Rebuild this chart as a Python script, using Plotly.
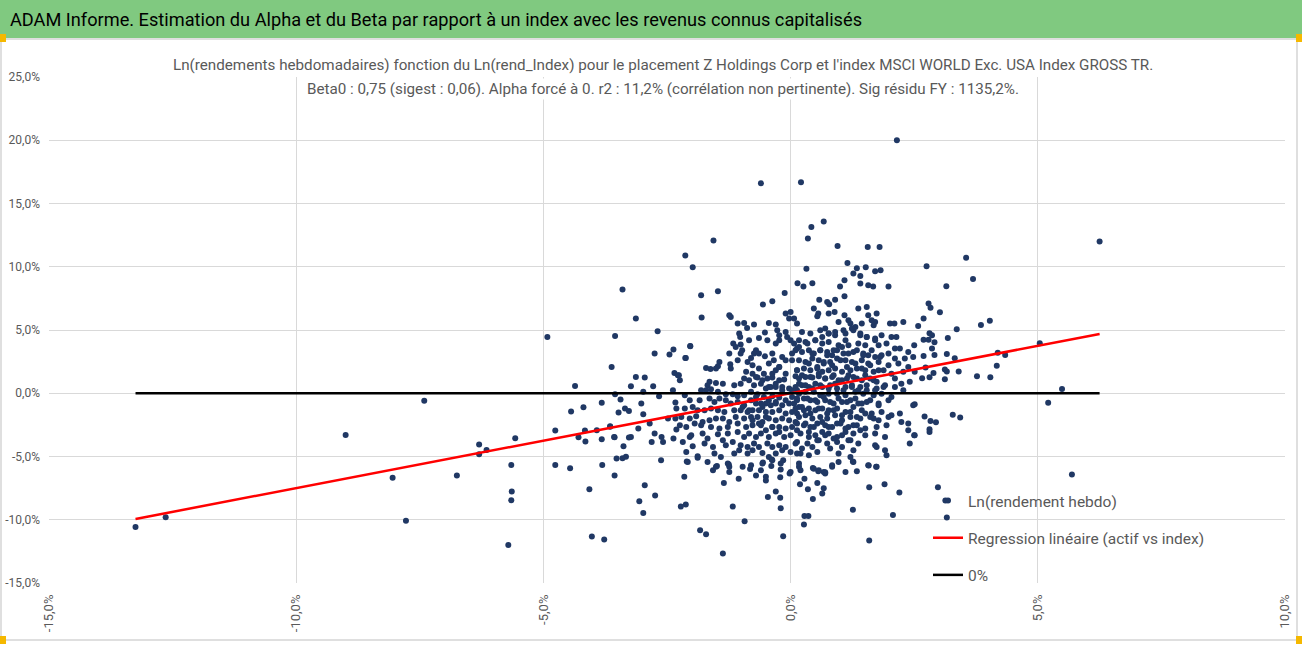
import plotly.graph_objects as go

# valeurs (en %)
beta0 = 0.75

x_ticks = [-15, -10, -5, 0, 5, 10]
x_labels = ["-15,0%", "-10,0%", "-5,0%", "0,0%", "5,0%", "10,0%"]
y_ticks = [-15, -10, -5, 0, 5, 10, 15, 20, 25]
y_labels = ["-15,0%", "-10,0%", "-5,0%", "0,0%", "5,0%", "10,0%", "15,0%", "20,0%", "25,0%"]

# (rend_index, rend_actif)
tail_left = [
    (-13.25, -10.57), (-12.64, -9.80), (-9.00, -3.30), (-7.41, -0.60), (-8.05, -6.67),
    (-7.78, -10.07), (-6.75, -6.50), (-6.30, -4.06), (-6.30, -4.82), (-6.15, -4.48),
    (-5.57, -3.56), (-5.65, -5.67), (-5.64, -7.77), (-5.65, -8.46), (-5.71, -11.99),
    (-4.92, 4.45), (-4.36, 0.58), (-4.44, -1.45), (-4.19, -1.10), (-3.82, -0.76),
    (-4.76, -2.95), (-4.16, -2.95), (-4.29, -3.48), (-4.15, -3.82), (-3.82, -3.64),
    (-3.65, -2.64), (-3.56, -3.48), (-4.76, -5.67), (-4.46, -5.93), (-3.81, -5.67),
    (-3.56, -6.51), (-4.07, -7.59), (-4.02, -11.33), (-3.77, -11.57), (-3.62, 2.08),
    (-3.55, 4.53),
]

mid_left = [
    (-3.55, -0.08), (-3.44, -0.50), (-3.23, 0.55), (-3.13, 1.29), (-2.95, 1.24),
    (-2.98, 0.11), (-2.78, 0.55), (-2.66, -0.24), (-2.35, 1.61), (-2.26, 1.42),
    (-2.38, 0.24), (-2.33, -0.74), (-3.48, -1.53), (-3.35, -1.21), (-3.27, -1.40),
    (-3.02, -0.82), (-2.98, -1.66), (-2.85, -2.40), (-3.08, -2.79), (-3.23, -3.45),
    (-3.27, -3.50), (-3.38, -4.19), (-3.65, -2.61), (-3.57, -3.45), (-3.92, -2.92),
    (-2.81, -3.85), (-2.75, -3.19), (-2.61, -3.45), (-2.58, -3.85), (-2.48, -2.00),
    (-2.33, -2.00), (-2.31, -2.87), (-2.37, -3.58), (-3.40, 8.20), (-3.13, 5.90),
    (-2.69, 4.90), (-2.75, 3.14), (-2.45, 3.06), (-2.37, 3.45), (-2.03, 3.74),
    (-2.13, 2.79),
]

upper = [
    (-0.60, 16.60), (0.21, 16.68), (0.67, 13.57), (0.42, 13.15), (0.35, 12.23),
    (0.95, 11.65), (1.56, 11.57), (1.80, 11.57), (-1.56, 12.07), (-2.13, 10.88),
    (-1.98, 9.96), (0.14, 8.70), (0.26, 8.43), (0.44, 8.70), (0.32, 9.85),
    (1.15, 10.30), (1.34, 9.88), (1.52, 9.96), (1.82, 9.72), (1.71, 9.64),
    (1.27, 9.46), (1.41, 9.27), (1.09, 8.93), (1.00, 8.43), (1.41, 8.67),
    (1.57, 8.54), (1.67, 8.43), (1.98, 8.43), (2.15, 20.00),
]

right_side = [
    (6.25, 11.99), (3.55, 10.72), (2.75, 10.04), (3.69, 9.04), (3.15, 8.46),
    (2.79, 7.09), (2.83, 6.75), (3.02, 6.40), (2.69, 5.90), (2.58, 5.32),
    (3.36, 5.06), (3.85, 5.40), (4.03, 5.74), (2.81, 4.74), (2.86, 4.58),
    (2.69, 4.22), (2.79, 4.22), (2.91, 4.03), (3.18, 4.37), (2.86, 3.53),
    (2.69, 2.95), (2.91, 3.03), (3.16, 3.11), (3.32, 2.77), (4.19, 3.21),
    (4.34, 3.03), (5.04, 3.95), (2.73, 2.03), (3.12, 1.87), (3.16, 1.71),
    (3.40, 1.71), (2.89, 1.61), (4.17, 2.18), (3.77, 1.34), (4.04, 1.26),
    (2.81, 1.26), (2.66, 1.19), (3.12, 1.11), (5.49, 0.34), (5.21, -0.76),
    (2.71, -1.84), (2.83, -2.19), (2.94, -2.29), (3.28, -1.69), (3.43, -1.92),
    (5.69, -6.43), (3.13, -8.48), (3.16, -9.83), (2.51, -0.87), (2.81, -2.85),
    (2.81, -3.06), (2.38, -2.40), (2.50, -3.32),
]

lower = [
    (-1.37, -12.67), (-1.83, -10.83), (-1.71, -11.15), (-0.93, -10.12), (-0.15, -11.30),
    (0.27, -10.38), (0.28, -9.70), (0.36, -9.70), (1.59, -11.65), (2.07, -9.62),
    (1.26, -9.20), (-2.98, -9.46), (-3.06, -8.54), (-2.22, -8.96), (-2.12, -8.80),
    (-1.17, -8.96), (-2.74, -8.09), (-2.95, -7.27), (-2.15, -6.61), (-1.35, -7.09),
    (-1.05, -6.75), (-0.46, -8.20), (-0.30, -7.77), (-0.21, -8.27), (-0.20, -9.09),
    (0.19, -7.19), (0.35, -7.59), (0.45, -8.35), (0.64, -7.93), (0.67, -7.51),
    (0.54, -7.09), (1.59, -7.43), (1.90, -7.19), (2.20, -7.85), (2.98, -7.43),
    (1.73, -5.82), (1.58, -5.72), (1.34, -6.17), (1.26, -5.40), (0.84, -5.82),
    (0.70, -6.25), (0.56, -6.17), (0.45, -5.90), (0.28, -6.75), (0.17, -5.82),
    (-0.02, -6.35), (-0.21, -6.64), (-0.20, -6.03), (-0.39, -5.75), (-0.50, -6.90),
    (-0.50, -6.61), (-0.70, -6.51), (-0.82, -5.98), (-0.56, -5.48), (-0.38, -5.24),
    (-0.15, -5.30), (-1.57, -6.09), (-1.49, -5.75), (-1.25, -5.64), (-1.24, -5.82),
    (-1.88, -5.09), (-2.10, -5.40), (-2.62, -5.30), (-3.33, -5.01), (-3.40, -5.14),
    (-3.52, -5.16),
]

core_left = [
    (-1.81, 7.75), (-1.47, 8.06), (-0.12, 7.93), (-0.37, 7.27), (-0.56, 7.01),
    (-1.80, 5.98), (-1.24, 6.17), (-1.21, 6.03), (-0.10, 6.30), (0.00, 6.43),
    (-0.03, 5.90), (0.07, 5.90), (-1.07, 5.51), (-0.94, 5.56), (-0.74, 5.43),
    (-0.88, 5.16), (-0.44, 5.56), (-0.30, 5.43), (-0.27, 4.98), (-0.52, 4.80),
    (-0.23, 4.59), (-0.10, 4.85), (-0.07, 4.45), (-0.23, 4.19), (-0.30, 3.93),
    (-1.04, 4.72), (-1.02, 4.45), (-0.84, 4.19), (-0.64, 4.37), (-0.47, 4.19),
    (-2.03, 3.72), (-1.16, 3.93), (-1.11, 3.66), (-1.01, 3.85), (-0.98, 3.40),
    (-1.01, 3.14), (-0.70, 3.40), (-0.74, 3.14), (-0.64, 3.14), (-0.80, 2.79),
    (-0.52, 2.92), (-0.37, 3.14), (-0.34, 2.61), (-0.17, 2.87), (0.00, 4.19),
    (0.07, 3.93), (0.13, 3.53), (-2.12, 2.79), (-1.24, 3.14), (-1.07, 2.61),
    (-0.87, 2.48), (-0.77, 2.21), (-0.64, 1.95), (-0.44, 2.35), (-0.30, 1.82),
    (-0.23, 2.08), (-0.10, 1.55), (0.03, 2.61), (0.13, 1.82), (-1.44, 2.48),
    (-1.47, 2.13), (-1.51, 1.95), (-1.22, 2.29), (-1.21, 1.95), (-1.71, 2.00),
    (-1.62, 1.92), (-0.90, 1.69), (-0.77, 1.55), (-0.67, 1.24), (-0.54, 1.55),
    (-0.47, 1.16), (-0.37, 1.24), (-0.23, 1.03), (-0.13, 1.08), (0.10, 1.34),
    (0.17, 0.76), (-2.28, 1.42), (-2.24, 1.03), (-1.64, 0.90), (-1.68, 0.63),
    (-1.51, 0.82), (-1.37, 0.76), (-1.14, 0.63), (-1.01, 0.76), (-0.94, 1.16),
    (-0.84, 1.03), (-0.74, 0.63), (-0.60, 0.76), (-0.50, 0.37), (-0.40, 0.50),
    (-0.30, 0.50), (-0.17, 0.50), (-0.03, 0.37), (0.03, 0.24), (0.13, 0.24),
    (-1.81, 0.24), (-1.71, 0.24), (-1.61, 0.32), (-1.47, 0.11), (-1.31, -0.08),
    (-1.17, -0.08), (-1.07, -0.24), (-0.94, -0.16), (-0.80, 0.11), (-0.67, -0.08),
    (-0.54, -0.29), (-0.37, -0.24), (-0.23, -0.34), (-0.10, -0.55), (0.03, -0.29),
    (0.13, -0.42), (-2.14, -0.16), (-2.04, -0.55), (-1.84, -0.55), (-1.64, -0.42),
    (-1.54, -0.69), (-1.44, -0.42), (-1.31, -0.55), (-1.21, -0.82), (-1.07, -0.69),
    (-0.94, -0.95), (-0.80, -0.55), (-0.70, -0.82), (-0.60, -0.82), (-0.50, -0.82),
    (-0.40, -0.95), (-0.30, -0.69), (-0.17, -0.95), (-0.03, -0.82), (0.07, -0.82),
    (0.17, -1.08), (-2.31, -1.21), (-2.14, -1.21), (-1.98, -1.08), (-1.88, -1.34),
    (-1.74, -1.34), (-1.61, -1.21), (-1.47, -1.34), (-1.34, -1.48), (-1.14, -1.34),
    (-1.01, -1.34), (-0.87, -1.48), (-0.77, -1.34), (-0.64, -1.34), (-0.50, -1.48),
    (-0.37, -1.48), (-0.23, -1.34), (-0.10, -1.61), (0.03, -1.48), (0.13, -1.61),
    (-2.21, -1.87), (-2.04, -2.00), (-1.91, -1.82), (-1.78, -2.27), (-1.64, -2.13),
    (-1.51, -2.00), (-1.37, -2.00), (-1.24, -2.27), (-1.11, -1.87), (-0.94, -2.00),
    (-0.80, -1.87), (-0.67, -1.87), (-0.57, -2.27), (-0.44, -2.00), (-0.30, -2.13),
    (-0.17, -2.00), (-0.03, -2.13), (0.10, -2.27), (-2.24, -2.53), (-2.11, -2.66),
    (-1.94, -2.40), (-1.81, -2.53), (-1.61, -2.66), (-1.44, -2.79), (-1.27, -2.66),
    (-1.07, -2.40), (-0.90, -2.66), (-0.77, -2.53), (-0.60, -2.53), (-0.50, -2.92),
    (-0.37, -2.66), (-0.23, -2.66), (-0.10, -2.79), (0.03, -2.66), (0.13, -2.92),
    (-2.04, -3.45), (-2.01, -3.32), (-2.18, -3.85), (-1.78, -3.19), (-1.68, -3.58),
    (-1.47, -3.24), (-1.27, -3.19), (-1.07, -3.06), (-0.94, -3.45), (-0.84, -3.19),
    (-0.70, -3.45), (-0.60, -3.19), (-0.44, -3.45), (-0.30, -3.19), (-0.13, -3.45),
    (0.00, -3.32), (0.10, -3.98), (-1.98, -4.19), (-1.74, -3.98), (-1.57, -4.24),
    (-1.37, -3.72), (-1.31, -4.11), (-1.17, -3.85), (-1.01, -4.11), (-0.87, -4.24),
    (-0.74, -3.98), (-0.64, -4.24), (-0.47, -3.98), (-0.37, -4.24), (-0.23, -4.11),
    (-0.10, -4.24), (-2.11, -4.64), (-1.88, -4.98), (-1.54, -4.77), (-1.41, -5.03),
    (-1.14, -4.77), (-1.04, -4.51), (-0.87, -4.77), (-0.77, -4.51), (-0.57, -4.72),
    (-0.44, -5.03), (-0.30, -4.77), (-0.17, -4.51), (0.00, -4.64), (0.13, -4.77),
    (-2.08, -5.43), (-1.68, -5.43), (-1.51, -5.82), (-1.27, -5.56), (-0.97, -5.82),
    (-0.80, -5.69), (-0.57, -5.56), (-0.37, -5.30), (-0.20, -5.56), (0.00, -6.22),
    (-1.24, -6.22), (-0.60, -6.09),
]

core_right = [
    (1.09, 7.67), (0.58, 7.40), (0.74, 7.22), (0.78, 7.04), (0.90, 7.40),
    (0.47, 6.69), (0.56, 6.30), (0.54, 6.09), (0.77, 6.30), (0.89, 6.43),
    (1.09, 6.17), (1.37, 6.69), (1.54, 6.82), (1.57, 6.17), (1.74, 6.30),
    (1.17, 5.77), (1.21, 5.51), (0.97, 5.64), (1.31, 5.24), (1.44, 5.51),
    (1.64, 5.77), (1.68, 5.38), (1.71, 5.64), (2.01, 5.51), (2.10, 5.51),
    (2.28, 5.64), (0.13, 5.51), (0.23, 4.85), (0.40, 4.72), (0.60, 4.98),
    (0.70, 5.11), (0.77, 4.72), (0.90, 4.59), (1.11, 4.72), (1.27, 4.98),
    (1.41, 4.59), (1.54, 4.45), (1.71, 4.32), (1.84, 4.59), (2.04, 4.45),
    (2.14, 4.45), (0.17, 4.19), (0.30, 4.06), (0.50, 4.19), (0.64, 3.93),
    (0.77, 4.06), (0.97, 3.79), (1.11, 4.19), (1.17, 3.79), (1.37, 3.93),
    (1.51, 3.79), (1.78, 3.79), (1.94, 3.93), (2.11, 3.53), (2.21, 3.53),
    (2.38, 3.27), (2.50, 3.79), (0.10, 3.40), (0.23, 3.27), (0.37, 3.40),
    (0.47, 3.14), (0.60, 3.40), (0.74, 3.27), (0.84, 3.00), (0.94, 3.40),
    (1.07, 3.14), (1.27, 3.27), (1.47, 3.14), (1.57, 3.00), (1.71, 2.87),
    (1.84, 3.00), (1.98, 3.14), (2.11, 2.74), (2.31, 2.74), (2.48, 2.87),
    (0.17, 2.61), (0.30, 2.48), (0.44, 2.74), (0.57, 2.61), (0.67, 2.35),
    (0.80, 2.48), (0.94, 2.74), (1.11, 2.61), (1.24, 2.48), (1.44, 2.61),
    (1.57, 2.35), (1.78, 2.48), (1.98, 2.21), (2.18, 2.35), (2.38, 2.08),
    (0.13, 1.82), (0.27, 1.95), (0.40, 1.82), (0.54, 1.95), (0.64, 1.69),
    (0.77, 1.82), (0.90, 1.95), (1.04, 1.69), (1.21, 1.82), (1.34, 1.95),
    (1.51, 1.82), (1.68, 1.69), (1.88, 1.82), (2.04, 1.55), (2.28, 1.69),
    (2.51, 1.69), (0.17, 1.16), (0.30, 1.29), (0.44, 1.24), (0.57, 1.34),
    (0.70, 1.16), (0.84, 1.29), (0.97, 1.03), (1.14, 1.16), (1.27, 1.29),
    (1.44, 1.03), (1.61, 1.16), (1.74, 0.90), (1.91, 0.63), (2.11, 1.16),
    (2.24, 0.76), (2.41, 0.90), (0.10, 0.50), (0.23, 0.63), (0.37, 0.50),
    (0.50, 0.76), (0.64, 0.50), (0.80, 0.63), (0.94, 0.37), (1.11, 0.50),
    (1.24, 0.63), (1.41, 0.50), (1.54, 0.24), (1.74, 0.37), (1.88, 0.50),
    (2.11, 0.50), (2.28, 0.24), (0.17, -0.03), (0.30, 0.11), (0.47, 0.11),
    (0.60, -0.16), (0.77, -0.03), (0.94, -0.03), (1.11, -0.16), (1.31, 0.11),
    (1.47, -0.03), (1.68, -0.16), (1.84, -0.03), (2.04, -0.29), (0.13, -0.55),
    (0.27, -0.42), (0.40, -0.55), (0.54, -0.69), (0.70, -0.55), (0.87, -0.82),
    (1.04, -0.69), (1.21, -0.55), (1.37, -0.82), (1.54, -0.69), (1.78, -0.95),
    (1.98, -0.55), (2.48, -0.95), (0.10, -1.21), (0.23, -1.08), (0.37, -1.21),
    (0.50, -1.34), (0.64, -1.21), (0.77, -1.34), (0.94, -1.21), (1.11, -1.48),
    (1.27, -1.08), (1.44, -1.34), (1.64, -1.61), (1.84, -1.48), (2.04, -1.74),
    (2.21, -1.61), (0.17, -1.87), (0.30, -1.74), (0.44, -2.00), (0.60, -1.87),
    (0.74, -2.00), (0.90, -1.74), (1.04, -2.13), (1.21, -1.87), (1.41, -2.00),
    (1.61, -1.87), (1.78, -2.13), (1.98, -1.87), (2.24, -2.27), (0.13, -2.40),
    (0.27, -2.53), (0.40, -2.66), (0.54, -2.40), (0.70, -2.53), (0.84, -2.66),
    (1.01, -2.40), (1.17, -2.66), (1.34, -2.53), (1.51, -2.79), (1.74, -2.66),
    (1.94, -2.53), (2.38, -2.92), (0.20, -3.19), (0.37, -3.06), (0.50, -3.32),
    (0.64, -3.06), (0.77, -3.19), (0.94, -3.45), (1.11, -3.06), (1.27, -3.19),
    (1.51, -3.32), (1.71, -3.19), (1.91, -3.45), (2.51, -3.32), (0.13, -3.85),
    (0.34, -3.98), (0.57, -3.72), (0.74, -3.98), (0.94, -3.85), (1.17, -3.72),
    (1.37, -3.98), (1.71, -4.11), (2.41, -3.98), (0.23, -4.37), (0.44, -4.24),
    (0.80, -4.37), (1.04, -4.24), (1.27, -4.51), (1.74, -4.24), (1.91, -4.51),
    (0.20, -4.77), (0.37, -4.90), (0.54, -4.64), (0.97, -4.77), (1.21, -5.03),
    (1.94, -4.90), (0.17, -5.56), (0.47, -5.96), (0.67, -6.22), (0.84, -5.69),
    (0.97, -5.43), (1.27, -5.43), (1.57, -5.69), (1.74, -5.82), (0.20, -6.09),
    (0.57, -6.09), (1.11, -6.22), (0.70, -6.35),
]

core_dense = [
    (0.34, 3.93), (0.50, 4.19), (0.64, 4.45), (0.77, 4.72), (0.90, 4.85),
    (1.07, 4.98), (1.24, 5.11), (1.41, 4.72), (1.54, 4.45), (1.71, 4.19),
    (0.44, 3.14), (0.60, 3.40), (0.74, 3.00), (0.87, 3.40), (1.04, 3.66),
    (1.17, 3.14), (1.34, 3.40), (1.47, 3.00), (1.64, 3.40), (1.81, 2.87),
    (0.37, 2.35), (0.54, 2.08), (0.67, 2.48), (0.84, 2.21), (1.01, 2.61),
    (1.14, 2.08), (1.31, 2.35), (1.44, 1.95), (1.61, 2.21), (1.78, 1.82),
    (0.23, 1.42), (0.40, 1.29), (0.57, 1.55), (0.70, 1.16), (0.87, 1.42),
    (1.04, 1.03), (1.17, 1.42), (1.34, 1.16), (1.51, 1.42), (1.68, 1.03),
    (0.30, 0.63), (0.44, 0.37), (0.60, 0.63), (0.77, 0.37), (0.90, 0.76),
    (1.07, 0.24), (1.24, 0.50), (1.37, 0.24), (1.54, 0.63), (1.71, 0.24),
    (0.34, -0.42), (0.50, -0.55), (0.67, -0.29), (0.80, -0.69), (0.97, -0.42),
    (1.14, -0.69), (1.31, -0.42), (1.44, -0.82), (1.61, -0.55), (1.78, -0.82),
    (0.27, -1.34), (0.40, -1.61), (0.57, -1.21), (0.74, -1.61), (0.87, -1.34),
    (1.04, -1.74), (1.21, -1.48), (1.34, -1.87), (1.51, -1.61), (1.68, -2.00),
    (0.30, -2.40), (0.47, -2.66), (0.64, -2.27), (0.77, -2.66), (0.94, -2.40),
    (1.11, -2.79), (1.27, -2.53), (1.41, -2.92), (0.37, -3.45), (0.54, -3.72),
    (0.70, -3.32), (0.87, -3.58), (1.04, -3.32), (1.21, -3.72), (-0.44, -0.55),
    (-0.30, -0.82), (-0.57, -1.08), (-0.70, -0.29), (-0.84, -1.34), (-0.50, -1.87),
    (-0.64, -2.40), (-0.77, -2.13), (-0.37, -2.66), (-0.23, -3.06), (-0.97, -1.08),
    (-0.17, 0.24), (-0.30, 0.76), (-0.44, 0.50), (-0.57, 1.03), (-0.70, 1.29),
    (-0.37, 1.55), (-0.23, 2.08), (-0.10, 2.61), (0.03, 3.14), (0.17, 3.66),
]

points = tail_left + mid_left + upper + right_side + lower + core_left + core_right + core_dense
rend_index = [p[0] for p in points]
rend_actif = [p[1] for p in points]

x_lo = min(rend_index)
x_hi = max(rend_index)

FONT = "Roboto, Arial, sans-serif"
GREY = "#595959"

# conversion pixels -> coordonnees "paper" (zone de trace 49..1285 x 77..583)
def px(x):
    return (x - 49) / 1236.0

def py(y):
    return (583 - y) / 506.0

fig = go.Figure()
fig.add_trace(go.Scatter(
    x=rend_index, y=rend_actif, mode="markers", name="Ln(rendement hebdo)",
    marker=dict(color="#203864", size=6), legendgroup="a"))
fig.add_trace(go.Scatter(
    x=[x_lo, x_hi], y=[beta0 * x_lo, beta0 * x_hi], mode="lines",
    name="Regression linéaire (actif vs index)",
    line=dict(color="#FF0000", width=2.5), legendgroup="b"))
fig.add_trace(go.Scatter(
    x=[x_lo, x_hi], y=[0, 0], mode="lines", name="0%",
    line=dict(color="#000000", width=2.5), legendgroup="c"))

shapes = [
    dict(type="rect", xref="paper", yref="paper", x0=px(0), x1=px(1302),
         y0=py(38), y1=py(0), fillcolor="#80C980", line=dict(width=0), layer="below"),
    dict(type="rect", xref="paper", yref="paper", x0=px(1), x1=px(1297),
         y0=py(640), y1=py(39), line=dict(color="#BFBFBF", width=1), layer="below"),
]
for hx, hy in [(0, 38), (1296, 38), (0, 640), (1296, 640)]:
    shapes.append(dict(type="rect", xref="paper", yref="paper",
                       x0=px(hx), x1=px(hx + 6), y0=py(hy + 4), y1=py(hy - 4),
                       fillcolor="#F5B800", line=dict(width=0)))

fig.update_layout(
    width=1302, height=648, autosize=False,
    margin=dict(l=49, r=17, t=77, b=65),
    paper_bgcolor="white", plot_bgcolor="white",
    font=dict(family=FONT, color=GREY, size=12),
    shapes=shapes,
    showlegend=True,
    legend=dict(x=px(928), y=py(484), xanchor="left", yanchor="top",
                bgcolor="rgba(0,0,0,0)", font=dict(size=15.5, color=GREY, family=FONT),
                tracegroupgap=14, traceorder="grouped"),
    annotations=[
        dict(text="ADAM Informe. Estimation du Alpha et du Beta par rapport à un index avec les revenus connus capitalisés",
             xref="paper", yref="paper", x=px(8), y=py(19), xanchor="left", yanchor="middle",
             showarrow=False, font=dict(size=18.2, color="#000000", family=FONT)),
        dict(text="Ln(rendements hebdomadaires) fonction du Ln(rend_Index) pour le placement Z Holdings Corp et l'index MSCI WORLD Exc. USA Index GROSS TR.",
             xref="paper", yref="paper", x=px(663), y=py(65), xanchor="center", yanchor="middle",
             showarrow=False, bgcolor="white",
             font=dict(size=15.2, color=GREY, family=FONT)),
        dict(text="Beta0 : 0,75 (sigest : 0,06). Alpha forcé à 0. r2 : 11,2% (corrélation non pertinente). Sig résidu FY : 1135,2%.",
             xref="paper", yref="paper", x=px(663), y=py(89), xanchor="center", yanchor="middle",
             showarrow=False, bgcolor="white",
             font=dict(size=15.2, color=GREY, family=FONT)),
    ],
)

fig.update_xaxes(range=[-15, 10], tickvals=x_ticks, ticktext=x_labels, tickangle=-90,
                 showgrid=True, gridcolor="#D9D9D9", gridwidth=1, zeroline=False,
                 showline=False, ticks="", automargin=False, ticklabelstandoff=8,
                 tickfont=dict(size=13, color=GREY))
fig.update_yaxes(range=[-15, 25], tickvals=y_ticks, ticktext=y_labels,
                 showgrid=True, gridcolor="#D9D9D9", gridwidth=1, zeroline=False,
                 showline=False, ticks="", automargin=False, ticklabelstandoff=8,
                 tickfont=dict(size=12, color=GREY))

# la page html a une marge de 8 px par defaut : on la supprime
fig.write_html("out.html", config={"displayModeBar": False},
               post_script="document.body.style.margin='0px';")
